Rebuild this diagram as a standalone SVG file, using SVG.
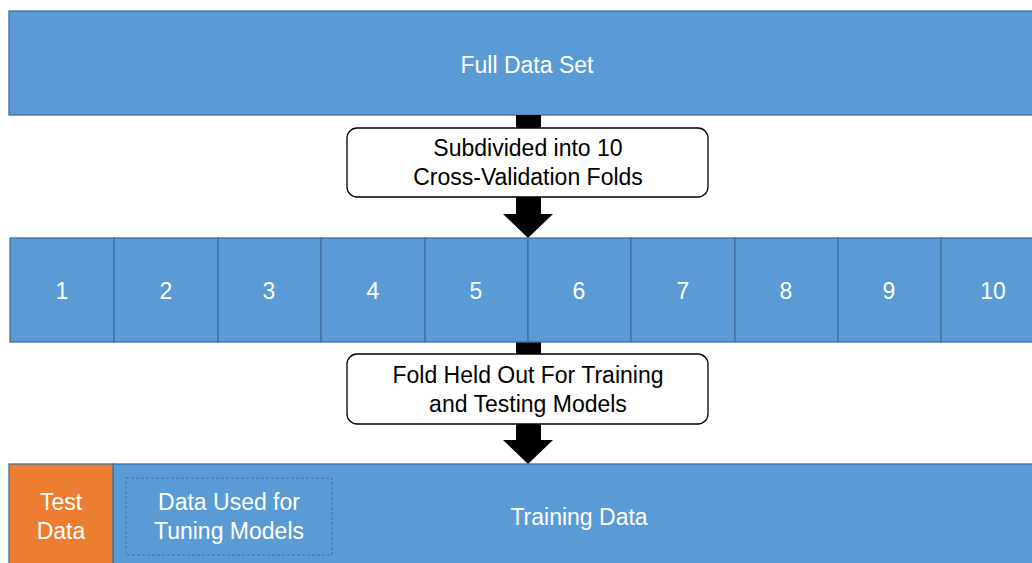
<svg xmlns="http://www.w3.org/2000/svg" width="1032" height="563" viewBox="0 0 1032 563">
<style>
.blue{fill:#5B9BD5;stroke:#41719C;stroke-width:1.3}
.orange{fill:#ED7D31;stroke:#41719C;stroke-width:1.3}
.box{fill:#fff;stroke:#000;stroke-width:1.3}
.wt{font-family:"Liberation Sans",Arial,sans-serif;font-size:23px;fill:#fff;text-anchor:middle}
.bt{font-family:"Liberation Sans",Arial,sans-serif;font-size:23px;fill:#000;text-anchor:middle}
.arrow{fill:#000}
</style>
<rect width="1032" height="563" fill="#fff"/>
<g id="full">
<rect class="blue" x="9" y="11" width="1036" height="104"/>
<text class="wt" x="527" y="73">Full Data Set</text>
</g>
<g id="connectors">
<rect class="arrow" x="516" y="115" width="25" height="100"/>
<polygon class="arrow" points="503,214 553,214 528,238"/>
<rect class="arrow" x="516" y="342" width="25" height="99"/>
<polygon class="arrow" points="503,440 553,440 528,464"/>
</g>
<g id="step1">
<rect class="box" x="347" y="128" width="361" height="69" rx="10"/>
<text class="bt" x="528" y="156">Subdivided into 10</text>
<text class="bt" x="528" y="185">Cross-Validation Folds</text>
</g>
<g id="folds">
<rect class="blue" x="10" y="238" width="104" height="104"/>
<rect class="blue" x="114" y="238" width="104" height="104"/>
<rect class="blue" x="218" y="238" width="103" height="104"/>
<rect class="blue" x="321" y="238" width="104" height="104"/>
<rect class="blue" x="425" y="238" width="103" height="104"/>
<rect class="blue" x="528" y="238" width="103" height="104"/>
<rect class="blue" x="631" y="238" width="104" height="104"/>
<rect class="blue" x="735" y="238" width="103" height="104"/>
<rect class="blue" x="838" y="238" width="103" height="104"/>
<rect class="blue" x="941" y="238" width="104" height="104"/>
<text class="wt" x="62" y="299">1</text>
<text class="wt" x="166" y="299">2</text>
<text class="wt" x="269" y="299">3</text>
<text class="wt" x="373" y="299">4</text>
<text class="wt" x="476" y="299">5</text>
<text class="wt" x="579" y="299">6</text>
<text class="wt" x="683" y="299">7</text>
<text class="wt" x="786" y="299">8</text>
<text class="wt" x="889" y="299">9</text>
<text class="wt" x="993" y="299">10</text>
</g>
<g id="step2">
<rect class="box" x="347" y="354" width="361" height="70" rx="10"/>
<text class="bt" x="528" y="383">Fold Held Out For Training</text>
<text class="bt" x="528" y="412">and Testing Models</text>
</g>
<g id="training">
<rect class="blue" x="113" y="464" width="932" height="110"/>
<text class="wt" x="579" y="525">Training Data</text>
</g>
<g id="tuning">
<rect x="126" y="478" width="206" height="77" fill="none" stroke="#41719C" stroke-width="1" stroke-dasharray="3,2"/>
<text class="wt" x="229" y="510">Data Used for</text>
<text class="wt" x="229" y="539">Tuning Models</text>
</g>
<g id="test">
<rect class="orange" x="9" y="464" width="104" height="110"/>
<text class="wt" x="61" y="510">Test</text>
<text class="wt" x="61" y="539">Data</text>
</g>
</svg>
